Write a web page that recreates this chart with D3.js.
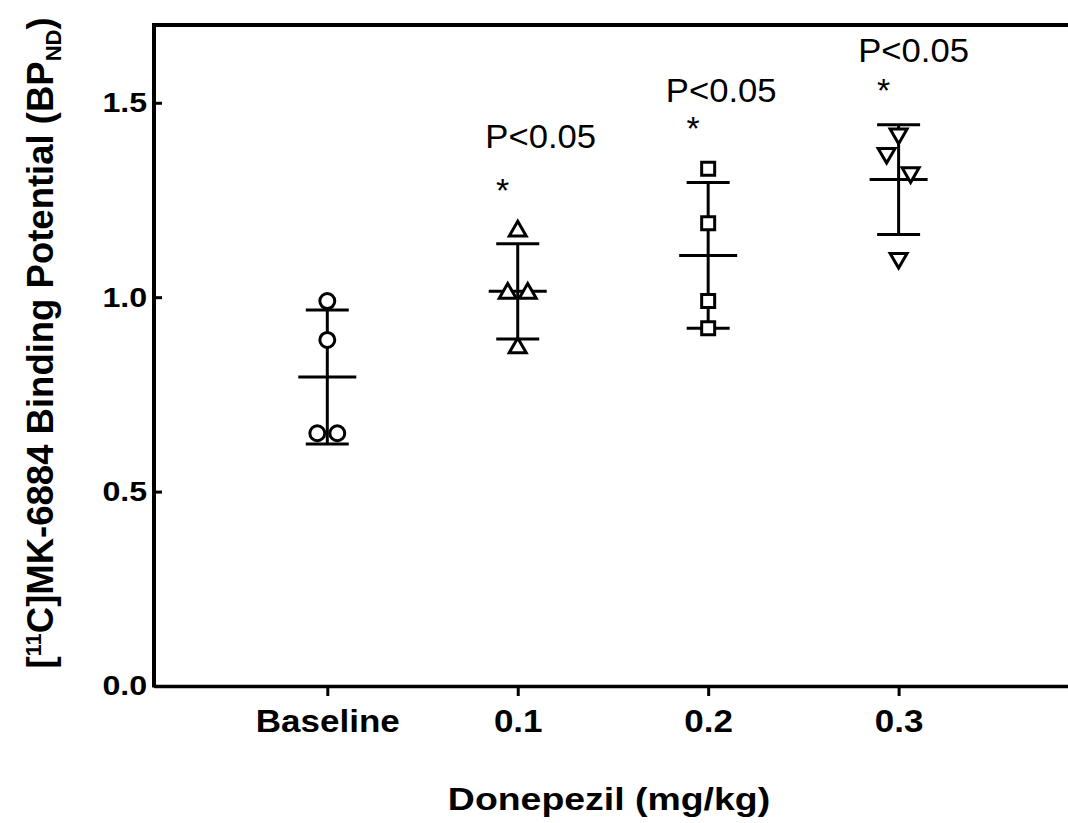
<!DOCTYPE html>
<meta charset="utf-8">
<style>
  body { margin: 0; background: #fff; }
  svg text { font-family: Arial, "Liberation Sans", Helvetica, sans-serif; fill: #000; }
</style>
<body>
<script src="https://cdn.jsdelivr.net/npm/d3@7"></script>
<script>

var groups = ["Baseline", "0.1", "0.2", "0.3"];
var baseline = [0.99, 0.89, 0.65, 0.65];
var dose01 = [1.17, 1.01, 1.01, 0.87];
var dose02 = [1.33, 1.19, 0.99, 0.92];
var dose03 = [1.42, 1.37, 1.32, 1.10];
var yTicks = [0, 0.5, 1.0, 1.5];
var stars = ["", "*", "*", "*"];
var pLabels = ["", "P<0.05", "P<0.05", "P<0.05"];

var series = [baseline, dose01, dose02, dose03];
var shapes = [d3.symbolCircle, d3.symbolTriangle, d3.symbolSquare, d3.symbolTriangle];
var shapeSize = [175, 125, 169, 125];
var shapeRot = [0, 0, 0, 180];
// where each P label sits, relative to its star (px)
var pOffset = [null, [23, -38], [13, -22], [15, -24]];

var width = 1068, height = 823;

var x = d3.scaleLinear().domain([-0.91, 3.9]).range([154, 1070]);
var y = d3.scaleLinear().domain([0, 1.7]).range([686, 25]);

var svg = d3.select("body").append("svg")
    .attr("width", width)
    .attr("height", height);

// top frame line
svg.append("line")
    .attr("x1", x(-0.91)).attr("x2", width + 2)
    .attr("y1", y(1.7)).attr("y2", y(1.7))
    .attr("stroke", "#000").attr("stroke-width", 4);

// y axis (ticks point inward)
var yAxis = svg.append("g")
    .attr("transform", "translate(" + x(-0.91) + ",0)")
    .call(d3.axisLeft(y).tickValues(yTicks).tickSize(-8).tickSizeOuter(0)
        .tickPadding(6).tickFormat(d3.format(".1f")));
yAxis.select(".domain").attr("stroke-width", 4).attr("d", "M0," + (y(1.7) - 2) + "V" + (y(0) + 1.5));
yAxis.selectAll(".tick line").attr("stroke-width", 3);
yAxis.selectAll(".tick text")
    .attr("font-size", 28).attr("font-weight", "bold").attr("font-family", "Arial, 'Liberation Sans', sans-serif")
    .attr("transform", "scale(1.15,1)");

// x axis
var xAxis = svg.append("g")
    .attr("transform", "translate(0," + y(0) + ")")
    .call(d3.axisBottom(x).tickValues([0, 1, 2, 3]).tickSize(10).tickSizeOuter(0)
        .tickPadding(14).tickFormat(function(i) { return groups[i]; }));
xAxis.select(".domain").attr("stroke-width", 3.5);
xAxis.selectAll(".tick line").attr("stroke-width", 3);
xAxis.selectAll(".tick text")
    .attr("font-size", 31).attr("font-weight", "bold").attr("font-family", "Arial, 'Liberation Sans', sans-serif")
    .attr("transform", "scale(1.13,1)");

// axis titles
svg.append("text")
    .attr("transform", "translate(609,810) scale(1.17,1)")
    .attr("text-anchor", "middle")
    .attr("font-size", 32).attr("font-weight", "bold")
    .text("Donepezil (mg/kg)");

var yt = svg.append("text")
    .attr("transform", "translate(53,343) rotate(-90)")
    .attr("text-anchor", "middle")
    .attr("font-size", 36.5).attr("font-weight", "bold");
yt.append("tspan").text("[");
yt.append("tspan").attr("font-size", 22).attr("dy", -12).text("11");
yt.append("tspan").attr("dy", 12).text("C]MK-6884 Binding Potential (BP");
yt.append("tspan").attr("font-size", 22).attr("dy", 8).text("ND");
yt.append("tspan").attr("dy", -8).text(")");

// spread overlapping points sideways, like a column scatter
function spread(vals) {
    var idx = vals.map(function(v, i) { return i; })
        .sort(function(a, b) { return vals[b] - vals[a]; });
    var off = vals.map(function() { return 0; });
    var clusters = [], cur = [idx[0]];
    for (var k = 1; k < idx.length; k++) {
        if (y(vals[idx[k]]) - y(vals[idx[k - 1]]) < 21) cur.push(idx[k]);
        else { clusters.push(cur); cur = [idx[k]]; }
    }
    clusters.push(cur);
    clusters.forEach(function(c) {
        if (c.length == 2) { off[c[0]] = -10; off[c[1]] = 10; }
        if (c.length == 3) { off[c[1]] = -12; off[c[2]] = 12; }
    });
    return off;
}

series.forEach(function(vals, i) {
    var cx = x(i);
    var m = d3.mean(vals), sd = d3.deviation(vals);
    var g = svg.append("g");
    var off = spread(vals);

    // error bar: mean +/- SD
    g.append("line")
        .attr("x1", cx).attr("x2", cx)
        .attr("y1", y(m + sd)).attr("y2", y(m - sd))
        .attr("stroke", "#000").attr("stroke-width", 3);
    [m + sd, m - sd].forEach(function(v) {
        g.append("line")
            .attr("x1", cx - 21.5).attr("x2", cx + 21.5)
            .attr("y1", y(v)).attr("y2", y(v))
            .attr("stroke", "#000").attr("stroke-width", 3);
    });
    g.append("line")
        .attr("x1", cx - 29).attr("x2", cx + 29)
        .attr("y1", y(m)).attr("y2", y(m))
        .attr("stroke", "#000").attr("stroke-width", 3);

    // points
    g.selectAll("path.pt")
        .data(vals)
        .enter().append("path")
        .attr("class", "pt")
        .attr("d", d3.symbol().type(shapes[i]).size(shapeSize[i]))
        .attr("transform", function(d, j) {
            return "translate(" + (cx + off[j]) + "," + y(d) + ") rotate(" + shapeRot[i] + ")";
        })
        .attr("fill", "#fff")
        .attr("stroke", "#000")
        .attr("stroke-width", 3);

    if (stars[i]) {
        var top = Math.min(y(d3.max(vals)) - 8, y(m + sd) - 1.5);
        var sy = top - 37;
        svg.append("text")
            .attr("x", cx - 15).attr("y", sy + 16)
            .attr("text-anchor", "middle")
            .attr("font-size", 34)
            .text(stars[i]);
        svg.append("text")
            .attr("transform", "translate(" + (cx + pOffset[i][0]) + "," + (sy + pOffset[i][1]) + ") scale(1.05,1)")
            .attr("text-anchor", "middle")
            .attr("font-size", 33)
            .text(pLabels[i]);
    }
});

</script>
</body>
